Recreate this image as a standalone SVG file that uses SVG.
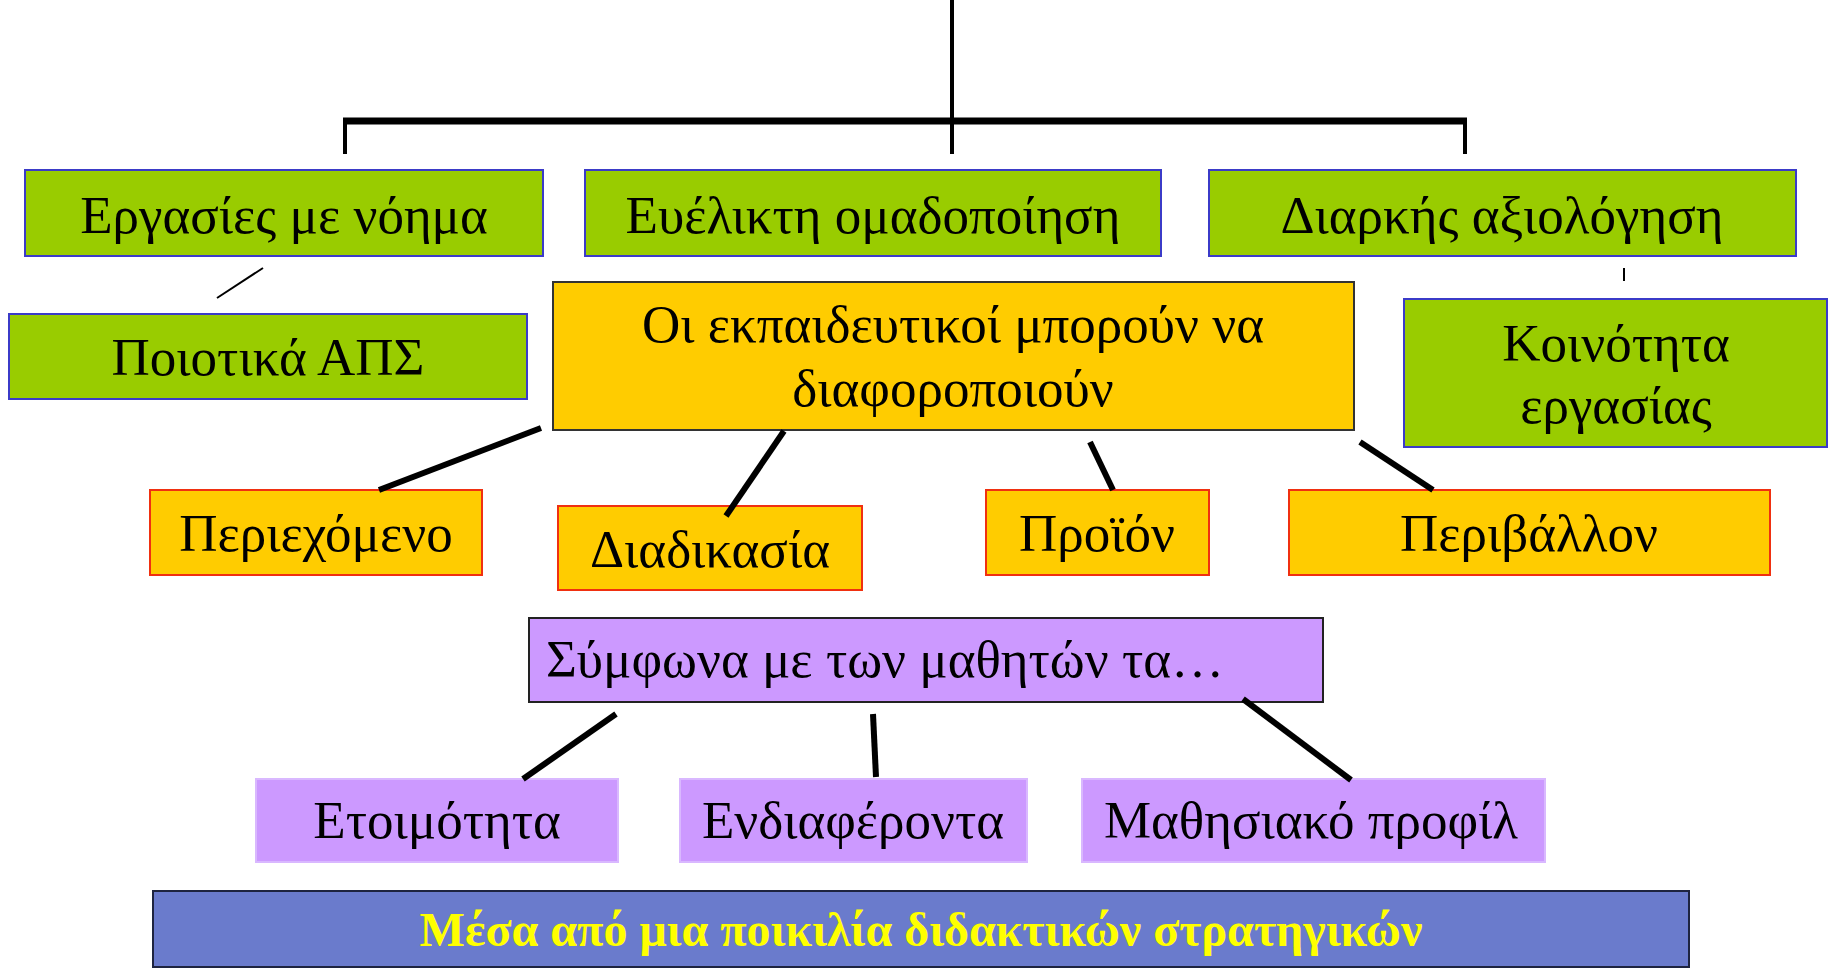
<svg xmlns="http://www.w3.org/2000/svg" width="1833" height="968" viewBox="0 0 1833 968">
<style>
.t{font-family:"Liberation Serif","Times New Roman",serif;font-size:53px;fill:#000;text-anchor:middle}
.g{fill:#99CC00;stroke:#3B3BC8;stroke-width:2}
.o{fill:#FFCC00;stroke:#333;stroke-width:2}
.or{fill:#FFCC00;stroke:#F03010;stroke-width:2}
.p{fill:#CC99FF;stroke:#222;stroke-width:2}
.pl{fill:#CC99FF;stroke:#D9B8FF;stroke-width:2}
.b{fill:#6A7BCC;stroke:#1E2440;stroke-width:2}
.c{stroke:#000;fill:none;stroke-linecap:butt}
</style>
<rect width="1833" height="968" fill="#fff"/>
<g id="n-ergasies"><rect class="g" x="25" y="170" width="518" height="86"/><text class="t" x="284" y="233">Εργασίες με νόημα</text></g>
<g id="n-eyelikti"><rect class="g" x="585" y="170" width="576" height="86"/><text class="t" x="873" y="233">Ευέλικτη ομαδοποίηση</text></g>
<g id="n-diarkis"><rect class="g" x="1209" y="170" width="587" height="86"/><text class="t" x="1502" y="233">Διαρκής αξιολόγηση</text></g>
<g id="n-poiotika"><rect class="g" x="9" y="314" width="518" height="85"/><text class="t" x="268" y="375">Ποιοτικά ΑΠΣ</text></g>
<g id="n-ekpaideutikoi"><rect class="o" x="553" y="282" width="801" height="148"/><text class="t" x="953" y="342">Οι εκπαιδευτικοί μπορούν να</text><text class="t" x="953" y="406">διαφοροποιούν</text></g>
<g id="n-koinotita"><rect class="g" x="1404" y="299" width="423" height="148"/><text class="t" x="1616" y="361">Κοινότητα</text><text class="t" x="1616" y="423">εργασίας</text></g>
<g id="n-periexomeno"><rect class="or" x="150" y="490" width="332" height="85"/><text class="t" x="316" y="551">Περιεχόμενο</text></g>
<g id="n-diadikasia"><rect class="or" x="558" y="506" width="304" height="84"/><text class="t" x="710" y="567">Διαδικασία</text></g>
<g id="n-proion"><rect class="or" x="986" y="490" width="223" height="85"/><text class="t" x="1097" y="551">Προϊόν</text></g>
<g id="n-perivallon"><rect class="or" x="1289" y="490" width="481" height="85"/><text class="t" x="1529" y="551">Περιβάλλον</text></g>
<g id="n-symfona"><rect class="p" x="529" y="618" width="794" height="84"/><text class="t" x="546" y="677" style="text-anchor:start">Σύμφωνα με των μαθητών τα…</text></g>
<g id="n-etoimotita"><rect class="pl" x="256" y="779" width="362" height="83"/><text class="t" x="437" y="838">Ετοιμότητα</text></g>
<g id="n-endiaferonta"><rect class="pl" x="680" y="779" width="347" height="83"/><text class="t" x="853" y="838">Ενδιαφέροντα</text></g>
<g id="n-mathisiako"><rect class="pl" x="1082" y="779" width="463" height="83"/><text class="t" x="1311" y="838">Μαθησιακό προφίλ</text></g>
<g id="n-mesa"><rect class="b" x="153" y="891" width="1536" height="76"/><text class="t" x="921" y="946" style="fill:#FFFF00;font-weight:bold;font-size:48px">Μέσα από μια ποικιλία διδακτικών στρατηγικών</text></g>
<g id="connectors">
<line class="c" x1="952" y1="0" x2="952" y2="154" stroke-width="4"/>
<line class="c" x1="343" y1="121" x2="1467" y2="121" stroke-width="7"/>
<line class="c" x1="345" y1="120" x2="345" y2="154" stroke-width="4"/>
<line class="c" x1="1465" y1="120" x2="1465" y2="154" stroke-width="4"/>
<line class="c" x1="263" y1="268" x2="217" y2="298" stroke-width="2"/>
<line class="c" x1="1624" y1="268" x2="1624" y2="281" stroke-width="2"/>
<line class="c" x1="541" y1="428" x2="379" y2="490" stroke-width="6"/>
<line class="c" x1="784" y1="431" x2="726" y2="516" stroke-width="6"/>
<line class="c" x1="1090" y1="442" x2="1113" y2="490" stroke-width="6"/>
<line class="c" x1="1360" y1="442" x2="1433" y2="490" stroke-width="6"/>
<line class="c" x1="616" y1="714" x2="523" y2="779" stroke-width="6"/>
<line class="c" x1="873" y1="714" x2="876" y2="777" stroke-width="6"/>
<line class="c" x1="1243" y1="699" x2="1351" y2="780" stroke-width="6"/>
</g>
</svg>
